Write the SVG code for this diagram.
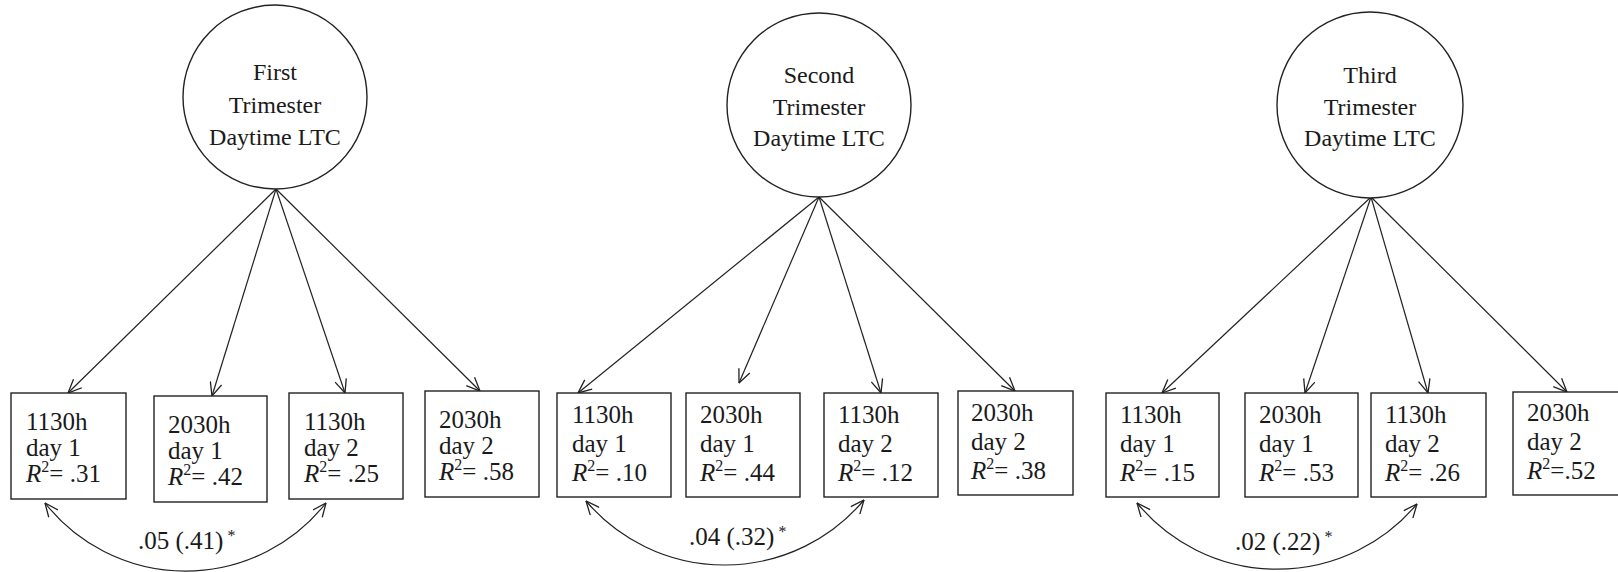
<svg xmlns="http://www.w3.org/2000/svg" width="1618" height="572" viewBox="0 0 1618 572" font-family="'Liberation Serif', 'Times New Roman', serif">
<style>
text{font-family:"Liberation Serif","Times New Roman",serif;fill:#1a1a1a;font-size:25px}
.cl{font-size:24px;text-anchor:middle}
.sup{font-size:16px}
.ast{font-size:16px}
.it{font-style:italic}
.node{fill:#fff;stroke:#222;stroke-width:1.4}
.edge{fill:none;stroke:#222;stroke-width:1.2}
</style>
<defs>
<marker id="arr" viewBox="0 0 15 13" refX="14.5" refY="6.5" markerWidth="15" markerHeight="13" markerUnits="userSpaceOnUse" orient="auto-start-reverse">
<path d="M1,0.6 L14.5,6.5 L1,12.4" fill="none" stroke="#222" stroke-width="1.3"/>
</marker>
</defs>
<rect width="1618" height="572" fill="#fff"/>
<g id="connectors">
<line class="edge" x1="276" y1="189" x2="68" y2="393" marker-end="url(#arr)"/>
<line class="edge" x1="276" y1="189" x2="212" y2="396" marker-end="url(#arr)"/>
<line class="edge" x1="276" y1="189" x2="345" y2="393" marker-end="url(#arr)"/>
<line class="edge" x1="276" y1="189" x2="480" y2="391" marker-end="url(#arr)"/>
<line class="edge" x1="819" y1="197" x2="578" y2="393" marker-end="url(#arr)"/>
<line class="edge" x1="819" y1="197" x2="739" y2="383" marker-end="url(#arr)"/>
<line class="edge" x1="819" y1="197" x2="881" y2="393" marker-end="url(#arr)"/>
<line class="edge" x1="819" y1="197" x2="1015" y2="391" marker-end="url(#arr)"/>
<line class="edge" x1="1371" y1="197" x2="1162" y2="393" marker-end="url(#arr)"/>
<line class="edge" x1="1371" y1="197" x2="1305" y2="393" marker-end="url(#arr)"/>
<line class="edge" x1="1371" y1="197" x2="1428" y2="393" marker-end="url(#arr)"/>
<line class="edge" x1="1371" y1="197" x2="1567" y2="392" marker-end="url(#arr)"/>
<path class="edge" d="M45,503 A179,179 0 0 0 326,503" marker-start="url(#arr)" marker-end="url(#arr)"/>
<path class="edge" d="M586,501 A182,182 0 0 0 864,500" marker-start="url(#arr)" marker-end="url(#arr)"/>
<path class="edge" d="M1137,503 A182,182 0 0 0 1417,504" marker-start="url(#arr)" marker-end="url(#arr)"/>
<text x="138" y="549">.05 (.41)<tspan class="ast" dx="4" dy="-8">*</tspan></text>
<text x="689" y="545">.04 (.32)<tspan class="ast" dx="4" dy="-8">*</tspan></text>
<text x="1235" y="550">.02 (.22)<tspan class="ast" dx="4" dy="-8">*</tspan></text>
</g>
<g id="first">
<circle class="node" cx="275" cy="97" r="92"/>
<text class="cl" x="275" y="80">First</text>
<text class="cl" x="275" y="113">Trimester</text>
<text class="cl" x="275" y="145">Daytime LTC</text>
</g>
<g id="second">
<circle class="node" cx="819" cy="105" r="92"/>
<text class="cl" x="819" y="83">Second</text>
<text class="cl" x="819" y="115">Trimester</text>
<text class="cl" x="819" y="146">Daytime LTC</text>
</g>
<g id="third">
<circle class="node" cx="1370" cy="105" r="93"/>
<text class="cl" x="1370" y="83">Third</text>
<text class="cl" x="1370" y="115">Trimester</text>
<text class="cl" x="1370" y="146">Daytime LTC</text>
</g>
<g id="b1"><rect class="node" x="11" y="393" width="115" height="106"/>
<text x="26" y="430">1130h</text><text x="26" y="456">day 1</text>
<text x="26" y="482"><tspan class="it">R</tspan><tspan class="sup" dy="-10">2</tspan><tspan dy="10">= .31</tspan></text></g>
<g id="b2"><rect class="node" x="154" y="396" width="113" height="106"/>
<text x="168" y="433">2030h</text><text x="168" y="459">day 1</text>
<text x="168" y="485"><tspan class="it">R</tspan><tspan class="sup" dy="-10">2</tspan><tspan dy="10">= .42</tspan></text></g>
<g id="b3"><rect class="node" x="289" y="393" width="114" height="106"/>
<text x="304" y="430">1130h</text><text x="304" y="456">day 2</text>
<text x="304" y="482"><tspan class="it">R</tspan><tspan class="sup" dy="-10">2</tspan><tspan dy="10">= .25</tspan></text></g>
<g id="b4"><rect class="node" x="425" y="391" width="114" height="106"/>
<text x="439" y="428">2030h</text><text x="439" y="454">day 2</text>
<text x="439" y="480"><tspan class="it">R</tspan><tspan class="sup" dy="-10">2</tspan><tspan dy="10">= .58</tspan></text></g>
<g id="b5"><rect class="node" x="557" y="393" width="114" height="104"/>
<text x="572" y="423">1130h</text><text x="572" y="452">day 1</text>
<text x="572" y="481"><tspan class="it">R</tspan><tspan class="sup" dy="-10">2</tspan><tspan dy="10">= .10</tspan></text></g>
<g id="b6"><rect class="node" x="686" y="393" width="114" height="104"/>
<text x="700" y="423">2030h</text><text x="700" y="452">day 1</text>
<text x="700" y="481"><tspan class="it">R</tspan><tspan class="sup" dy="-10">2</tspan><tspan dy="10">= .44</tspan></text></g>
<g id="b7"><rect class="node" x="824" y="393" width="114" height="104"/>
<text x="838" y="423">1130h</text><text x="838" y="452">day 2</text>
<text x="838" y="481"><tspan class="it">R</tspan><tspan class="sup" dy="-10">2</tspan><tspan dy="10">= .12</tspan></text></g>
<g id="b8"><rect class="node" x="958" y="391" width="115" height="104"/>
<text x="971" y="421">2030h</text><text x="971" y="450">day 2</text>
<text x="971" y="479"><tspan class="it">R</tspan><tspan class="sup" dy="-10">2</tspan><tspan dy="10">= .38</tspan></text></g>
<g id="b9"><rect class="node" x="1106" y="393" width="113" height="104"/>
<text x="1120" y="423">1130h</text><text x="1120" y="452">day 1</text>
<text x="1120" y="481"><tspan class="it">R</tspan><tspan class="sup" dy="-10">2</tspan><tspan dy="10">= .15</tspan></text></g>
<g id="b10"><rect class="node" x="1245" y="393" width="113" height="104"/>
<text x="1259" y="423">2030h</text><text x="1259" y="452">day 1</text>
<text x="1259" y="481"><tspan class="it">R</tspan><tspan class="sup" dy="-10">2</tspan><tspan dy="10">= .53</tspan></text></g>
<g id="b11"><rect class="node" x="1371" y="393" width="115" height="104"/>
<text x="1385" y="423">1130h</text><text x="1385" y="452">day 2</text>
<text x="1385" y="481"><tspan class="it">R</tspan><tspan class="sup" dy="-10">2</tspan><tspan dy="10">= .26</tspan></text></g>
<g id="b12"><rect class="node" x="1513" y="392" width="120" height="103"/>
<text x="1527" y="421">2030h</text><text x="1527" y="450">day 2</text>
<text x="1527" y="479"><tspan class="it">R</tspan><tspan class="sup" dy="-10">2</tspan><tspan dy="10">=.52</tspan></text></g>
</svg>
